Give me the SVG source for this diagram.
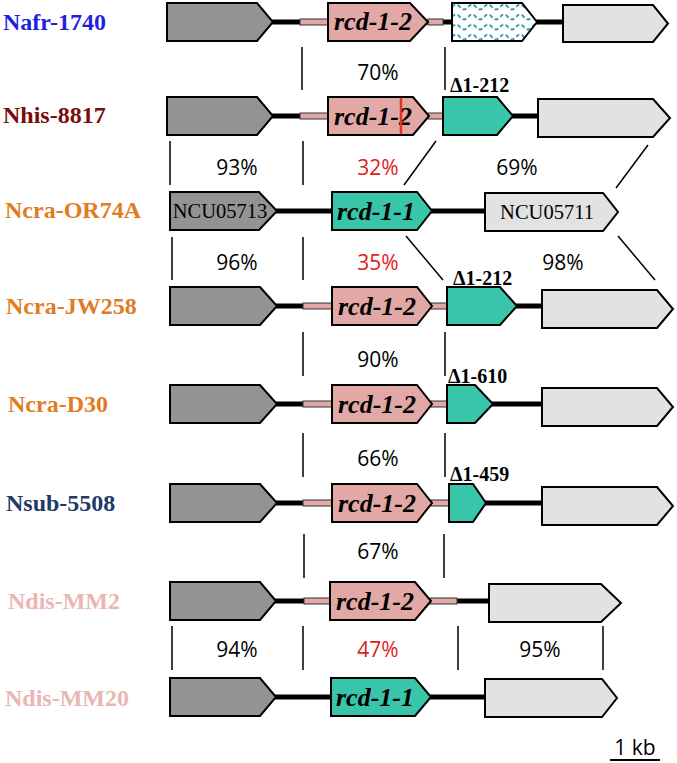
<svg xmlns="http://www.w3.org/2000/svg" width="677" height="763" viewBox="0 0 677 763">
<defs>
<style>
.g{fill:#939393;stroke:#000;stroke-width:2}
.p{fill:#e1a8a5;stroke:#000;stroke-width:2}
.t{fill:#38c5aa;stroke:#000;stroke-width:2}
.l{fill:#e2e2e2;stroke:#000;stroke-width:2}
.h{fill:url(#waves);stroke:#000;stroke-width:2}
.bl{stroke:#000;stroke-width:5}
.pb{fill:#e1a8a5;stroke:#333;stroke-width:1}
.gene{font-family:"Liberation Serif",serif;font-weight:bold;font-style:italic;font-size:26px;text-anchor:middle;fill:#000}
.ncu{font-family:"Liberation Serif",serif;font-size:20.5px;text-anchor:middle;fill:#000}
.sp{font-family:"Liberation Serif",serif;font-weight:bold;font-size:24px}
.del{font-family:"Liberation Serif",serif;font-weight:bold;font-size:20px;fill:#000}
.pc{font-family:"Open Sans","Liberation Sans",sans-serif;font-size:21px;text-anchor:middle;fill:#000}
.red{fill:#e0201a}
.cn{stroke:#000;stroke-width:1.5;fill:none}
</style>
<pattern id="waves" patternUnits="userSpaceOnUse" x="452" y="2" width="16" height="10">
<rect width="16" height="10" fill="#fff"/>
<path d="M0,5 Q4,0 8,5 T16,5" fill="none" stroke="#3a9cb0" stroke-width="2" stroke-dasharray="4,2.5"/>
</pattern>
</defs>
<rect width="677" height="763" fill="#fff"/>

<g id="connectors">
<line class="cn" x1="302" y1="47" x2="302" y2="90"/>
<line class="cn" x1="445" y1="47" x2="445" y2="90"/>
<line class="cn" x1="170" y1="141" x2="170" y2="185"/>
<line class="cn" x1="303" y1="141" x2="303" y2="185"/>
<line class="cn" x1="436" y1="141" x2="404" y2="185"/>
<line class="cn" x1="648" y1="145" x2="616" y2="188"/>
<line class="cn" x1="172" y1="237" x2="172" y2="280"/>
<line class="cn" x1="303" y1="237" x2="303" y2="280"/>
<line class="cn" x1="406" y1="236" x2="443" y2="280"/>
<line class="cn" x1="618" y1="236" x2="655" y2="280"/>
<line class="cn" x1="303" y1="332" x2="303" y2="376"/>
<line class="cn" x1="445" y1="332" x2="445" y2="376"/>
<line class="cn" x1="303" y1="433" x2="303" y2="477"/>
<line class="cn" x1="445" y1="433" x2="445" y2="477"/>
<line class="cn" x1="304" y1="534" x2="304" y2="578"/>
<line class="cn" x1="444" y1="534" x2="444" y2="578"/>
<line class="cn" x1="172" y1="626" x2="172" y2="670"/>
<line class="cn" x1="303" y1="626" x2="303" y2="670"/>
<line class="cn" x1="458" y1="626" x2="458" y2="670"/>
<line class="cn" x1="603" y1="626" x2="603" y2="670"/>
<text class="pc" x="378" y="80">70%</text>
<text class="pc" x="237" y="175">93%</text>
<text class="pc red" x="378" y="175">32%</text>
<text class="pc" x="517" y="175">69%</text>
<text class="pc" x="237" y="270">96%</text>
<text class="pc red" x="378" y="270">35%</text>
<text class="pc" x="563" y="270">98%</text>
<text class="pc" x="378" y="367">90%</text>
<text class="pc" x="378" y="466">66%</text>
<text class="pc" x="378" y="559">67%</text>
<text class="pc" x="237" y="657">94%</text>
<text class="pc red" x="378" y="657">47%</text>
<text class="pc" x="540" y="657">95%</text>
</g>

<g id="row-nafr">
<text class="sp" x="3" y="30" fill="#1f1fe0">Nafr-1740</text>
<line class="bl" x1="272" y1="22" x2="563" y2="22"/>
<rect class="pb" x="300" y="19" width="28" height="6"/>
<rect class="pb" x="428" y="19" width="15" height="6"/>
<polygon class="g" points="167,3 257,3 273,22 257,41 167,41"/>
<polygon class="p" points="328,3 410,3 428,22 410,41 328,41"/>
<text class="gene" x="373" y="30">rcd-1-2</text>
<polygon class="h" points="452,3 522,3 537,22 522,41 452,41"/>
<polygon class="l" points="563,5 653,5 668,23.5 653,42 563,42"/>
</g>

<g id="row-nhis">
<text class="sp" x="3" y="123" fill="#7b0c0c">Nhis-8817</text>
<line class="bl" x1="272" y1="116" x2="538" y2="116"/>
<rect class="pb" x="300" y="113" width="28" height="6"/>
<rect class="pb" x="428" y="113" width="15" height="6"/>
<polygon class="g" points="167,97 257,97 273,116 257,135 167,135"/>
<polygon class="p" points="328,97 413,97 429,116 413,135 328,135"/>
<text class="gene" x="373" y="125">rcd-1-2</text>
<line x1="401" y1="98" x2="401" y2="134" stroke="#e8301a" stroke-width="2.5"/>
<polygon class="t" points="443,97 497,97 513,116 497,135 443,135"/>
<text class="del" x="450" y="92">Δ1-212</text>
<polygon class="l" points="538,99 653,99 670,118 653,137 538,137"/>
</g>

<g id="row-ncra-or74a">
<text class="sp" x="5" y="218" fill="#e07c22">Ncra-OR74A</text>
<line class="bl" x1="276" y1="211" x2="485" y2="211"/>
<polygon class="g" points="170,192 259,192 277,211 259,230 170,230"/>
<text class="ncu" x="220" y="218">NCU05713</text>
<polygon class="t" points="332,192 417,192 432,211 417,230 332,230"/>
<text class="gene" x="376" y="220">rcd-1-1</text>
<polygon class="l" points="485,193 603,193 618,212 603,231 485,231"/>
<text class="ncu" x="547" y="219">NCU05711</text>
</g>

<g id="row-ncra-jw258">
<text class="sp" x="6" y="314" fill="#e07c22">Ncra-JW258</text>
<line class="bl" x1="276" y1="306" x2="542" y2="306"/>
<rect class="pb" x="303" y="303" width="29" height="6"/>
<rect class="pb" x="431" y="303" width="16" height="6"/>
<polygon class="g" points="170,287 260,287 277,306 260,325 170,325"/>
<polygon class="p" points="332,287 417,287 432,306 417,325 332,325"/>
<text class="gene" x="377" y="315">rcd-1-2</text>
<polygon class="t" points="447,287 500,287 517,306 500,325 447,325"/>
<text class="del" x="453" y="285">Δ1-212</text>
<polygon class="l" points="542,290 657,290 673,309 657,328 542,328"/>
</g>

<g id="row-ncra-d30">
<text class="sp" x="8" y="412" fill="#e07c22">Ncra-D30</text>
<line class="bl" x1="276" y1="404" x2="542" y2="404"/>
<rect class="pb" x="303" y="401" width="29" height="6"/>
<rect class="pb" x="431" y="401" width="16" height="6"/>
<polygon class="g" points="170,385 260,385 277,404 260,423 170,423"/>
<polygon class="p" points="332,385 417,385 432,404 417,423 332,423"/>
<text class="gene" x="377" y="413">rcd-1-2</text>
<polygon class="t" points="447,385 475,385 493,404 475,423 447,423"/>
<text class="del" x="448" y="383">Δ1-610</text>
<polygon class="l" points="542,388 657,388 673,407 657,426 542,426"/>
</g>

<g id="row-nsub">
<text class="sp" x="6" y="511" fill="#1e3a68">Nsub-5508</text>
<line class="bl" x1="276" y1="503" x2="542" y2="503"/>
<rect class="pb" x="303" y="500" width="29" height="6"/>
<rect class="pb" x="431" y="500" width="18" height="6"/>
<polygon class="g" points="170,484 260,484 277,503 260,522 170,522"/>
<polygon class="p" points="332,484 417,484 432,503 417,522 332,522"/>
<text class="gene" x="377" y="512">rcd-1-2</text>
<polygon class="t" points="449,484 473,484 486,503 473,522 449,522"/>
<text class="del" x="450" y="481">Δ1-459</text>
<polygon class="l" points="542,487 657,487 673,506 657,525 542,525"/>
</g>

<g id="row-ndis-mm2">
<text class="sp" x="8" y="609" fill="#eab6b2">Ndis-MM2</text>
<line class="bl" x1="275" y1="601" x2="489" y2="601"/>
<rect class="pb" x="304" y="598" width="26" height="6"/>
<rect class="pb" x="430" y="598" width="27" height="6"/>
<polygon class="g" points="170,582 260,582 276,601 260,620 170,620"/>
<polygon class="p" points="330,582 415,582 431,601 415,620 330,620"/>
<text class="gene" x="375" y="610">rcd-1-2</text>
<polygon class="l" points="489,584 601,584 621,603 601,622 489,622"/>
</g>

<g id="row-ndis-mm20">
<text class="sp" x="5" y="706" fill="#eab6b2">Ndis-MM20</text>
<line class="bl" x1="275" y1="697" x2="485" y2="697"/>
<polygon class="g" points="170,678 260,678 276,697 260,716 170,716"/>
<polygon class="t" points="331,678 415,678 431,697 415,716 331,716"/>
<text class="gene" x="375" y="706">rcd-1-1</text>
<polygon class="l" points="485,679 602,679 617,698 602,717 485,717"/>
</g>

<g id="scale-bar">
<text class="pc" x="635" y="755">1 kb</text>
<line x1="610" y1="760" x2="660" y2="760" stroke="#000" stroke-width="2"/>
</g>
</svg>
